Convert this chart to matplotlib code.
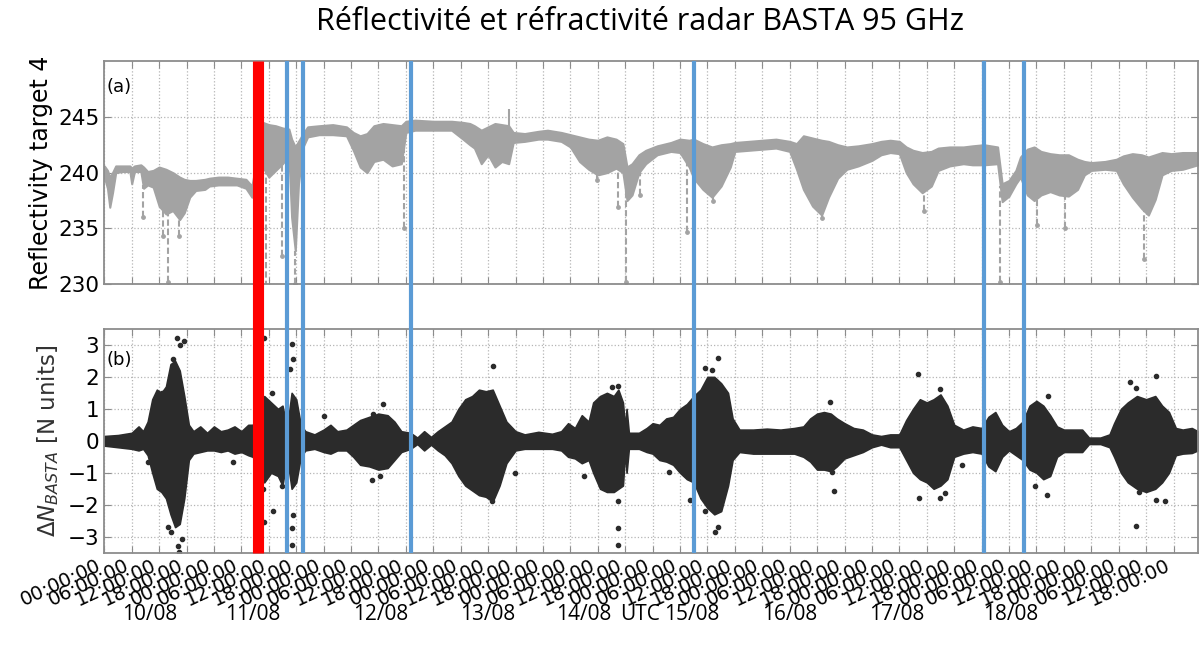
import numpy as np
import matplotlib
matplotlib.use('Agg')
import matplotlib.pyplot as plt
from matplotlib.lines import Line2D
from matplotlib import transforms

# Time axis: hours since 10/08 00:00 UTC

# (a) reflectivity of target 4: upper / lower edge of the point cloud
refl_t = [0.0, 0.7, 1.2, 1.8, 2.5, 4.0, 5.6, 6.0, 6.6, 8.0, 8.6, 9.5, 10.7, 12.0,
          13.5, 15.0, 16.5, 17.5, 18.7, 20.0, 22.0, 23.0, 25.0, 27.0, 29.0, 31.0,
          32.3, 33.5, 34.7, 36.0, 37.5, 39.0, 40.4, 41.0, 41.8, 42.5, 43.5, 44.5,
          47.0, 50.0, 53.0, 54.5, 56.0, 57.5, 59.0, 61.0, 63.0, 65.0, 66.0, 68.0,
          72.0, 76.0, 78.5, 80.0, 81.0, 82.5, 84.0, 85.5, 87.0, 88.5, 89.5, 92.0,
          95.0, 97.0, 100.0, 102.0, 104.0, 106.0, 108.0, 110.0, 112.0, 113.5,
          114.4, 115.5, 117.0, 118.5, 121.0, 124.0, 126.0, 128.0, 129.0, 131.0,
          133.0, 135.0, 137.0, 138.0, 141.0, 144.0, 147.0, 150.0, 151.5, 153.0,
          155.0, 157.0, 158.5, 160.5, 162.5, 165.0, 168.0, 170.0, 172.0, 174.0,
          175.5, 177.0, 179.0, 181.0, 182.5, 185.0, 188.0, 190.0, 192.5, 195.5,
          196.5, 198.0, 199.5, 200.5, 202.0, 203.5, 205.0, 207.0, 209.0, 211.0,
          213.0, 214.5, 216.0, 219.0, 221.5, 223.0, 225.0, 227.0, 228.5, 230.0,
          231.5, 233.5, 236.0, 239.3]
refl_hi = [240.6, 240.2, 239.6, 240.0, 240.6, 240.6, 240.6, 240.4, 240.6, 240.7,
           240.5, 240.1, 240.2, 240.5, 240.3, 240.0, 239.6, 239.4, 239.3, 239.3,
           239.4, 239.5, 239.6, 239.6, 239.5, 239.4, 238.8, 241.5, 244.5, 244.3,
           244.2, 244.0, 243.9, 243.0, 242.3, 242.8, 243.5, 244.1, 244.2, 244.3,
           244.1, 243.6, 243.3, 243.5, 244.2, 244.4, 244.3, 244.2, 244.6, 244.7,
           244.6, 244.6, 244.5, 244.4, 244.2, 243.8, 244.1, 244.4, 244.3, 244.2,
           243.6, 243.5, 243.7, 243.8, 243.6, 243.4, 243.2, 243.0, 242.9, 243.2,
           243.0, 242.6, 240.5, 240.8, 241.6, 242.0, 242.4, 242.7, 243.0, 242.9,
           243.0, 242.6, 242.3, 242.5, 242.6, 242.7, 242.8, 242.9, 243.0, 242.8,
           242.6, 243.3, 243.1, 242.9, 242.8, 242.5, 242.3, 242.4, 242.6, 242.8,
           242.9, 242.8, 242.3, 242.0, 241.8, 241.9, 242.2, 242.3, 242.3, 242.4,
           242.5, 242.3, 239.0, 239.3, 240.2, 241.4, 242.1, 242.3, 241.9, 241.7,
           241.6, 241.6, 241.2, 241.0, 240.9, 241.0, 241.2, 241.5, 241.7, 241.6,
           241.4, 241.6, 241.8, 241.7, 241.8, 241.8]
refl_lo = [239.6, 238.6, 236.9, 238.2, 240.0, 240.1, 240.1, 239.0, 240.1, 240.1,
           238.6, 238.9, 238.7, 237.0, 236.3, 236.6, 235.8, 236.4, 237.8, 238.4,
           238.5, 238.8, 238.9, 238.9, 238.9, 238.6, 237.8, 238.5, 240.5, 239.6,
           240.2, 240.8, 241.5, 236.0, 233.0, 239.0, 242.3, 243.2, 243.4, 243.4,
           243.3, 242.0, 240.5, 240.0, 241.0, 241.2, 240.6, 240.8, 243.6, 243.8,
           243.8, 243.8, 243.0, 242.5, 242.2, 240.8, 241.6, 240.5, 241.0, 240.8,
           242.7, 242.8, 243.0, 243.0, 242.8, 242.3, 241.0, 240.3, 239.8, 240.0,
           240.4, 240.0, 237.5, 238.0, 240.0, 240.8, 241.6, 241.9, 241.8, 240.5,
           239.5, 238.5, 237.8, 238.8, 240.5, 241.9, 242.0, 242.1, 242.2, 241.9,
           240.3, 238.5, 237.0, 236.2, 237.8, 239.5, 240.3, 240.6, 241.1, 241.6,
           241.8, 241.7, 240.0, 239.0, 238.2, 238.8, 240.2, 240.6, 240.8, 240.7,
           240.7, 240.8, 237.4, 237.9, 239.0, 239.6, 238.0, 237.5, 238.0, 238.3,
           238.0, 237.9, 238.5, 239.8, 240.2, 240.3, 240.2, 239.0, 237.8, 236.8,
           236.2, 237.6, 239.8, 240.2, 240.3, 240.7]

# isolated drops and jumps in (a)
refl_drop_t = [8.5, 12.9, 14.0, 16.4, 35.3, 38.8, 41.8, 65.5, 107.8, 112.5, 114.1,
               117.3, 127.5, 133.3, 157.1, 179.3, 196.1, 204.1, 210.3, 227.5]
refl_drop_v = [236.0, 234.3, 230.2, 234.3, 229.8, 232.5, 230.0, 235.0, 239.3, 236.9,
               230.2, 238.0, 234.7, 237.5, 235.9, 236.6, 230.2, 235.3, 235.0, 232.3]
refl_jump_t = [34.6, 88.5]
refl_jump_v = [246.2, 245.7]

# (b) refractivity change: upper / lower edge of the point cloud
dn_t = [0, 3, 6, 7.5, 8.5, 9.5, 10.5, 11.5, 12.5, 13.5, 14.5, 15.5, 16.5, 17.5,
        18.5, 19.5, 21, 22.5, 24, 25.5, 27, 28.5, 30, 31.5, 32.5, 33.5, 35, 36.5,
        38, 39, 40, 41, 42, 43, 44, 46, 48, 49.5, 51, 53, 54.5, 56, 58, 60, 62,
        63.5, 65, 67, 68.5, 70, 71.5, 73, 74.5, 76, 77.5, 79, 80.5, 82, 83.5, 85,
        86.5, 88, 90, 92, 95, 98, 100, 101.5, 103, 104.5, 106, 107, 108.5, 110,
        111.5, 112.5, 113.5, 114, 114.3, 114.8, 117, 118.7, 120, 121.5, 123, 124.5,
        126, 127.5, 129, 130.5, 132, 133.5, 135, 136.5, 137.5, 139, 142, 145, 148,
        151, 153, 154.5, 156, 157.5, 159, 160.3, 162, 164, 166, 168, 170, 172, 174,
        175.5, 177, 178.5, 180, 181.5, 183, 184.5, 186, 188, 190, 192, 193.5, 195,
        196.5, 198, 199.5, 201, 202.5, 204, 205.5, 207, 208.5, 210, 212, 214,
        215.5, 218, 220, 221, 222.5, 224, 226, 228, 230, 231.5, 233, 234.5, 236,
        238, 239.3]
dn_hi = [0.15, 0.18, 0.25, 0.45, 0.3, 0.6, 1.3, 1.6, 1.5, 1.7, 2.4, 2.5, 2.2, 1.4,
         0.5, 0.3, 0.45, 0.25, 0.45, 0.3, 0.35, 0.45, 0.3, 0.5, 0.5, 0.8, 1.4, 1.2,
         1.0, 1.1, 0.4, 1.5, 1.3, 0.5, 0.3, 0.2, 0.35, 0.5, 0.3, 0.35, 0.5, 0.65,
         0.75, 0.85, 0.8, 0.6, 0.3, 0.25, 0.1, 0.3, 0.12, 0.3, 0.45, 0.6, 1.0, 1.3,
         1.4, 1.6, 1.55, 1.6, 1.1, 0.6, 0.3, 0.2, 0.28, 0.22, 0.3, 0.55, 0.4, 0.8,
         0.6, 1.2, 1.4, 1.5, 1.4, 1.6, 1.2, 0.4, 1.0, 0.25, 0.25, 0.4, 0.55, 0.5,
         0.7, 0.75, 1.0, 1.15, 1.4, 1.6, 2.0, 2.0, 1.8, 1.5, 0.7, 0.35, 0.35, 0.38,
         0.35, 0.4, 0.45, 0.7, 0.85, 0.9, 0.85, 0.7, 0.55, 0.4, 0.35, 0.2, 0.15,
         0.2, 0.2, 0.65, 1.0, 1.3, 1.2, 1.3, 1.45, 1.1, 0.5, 0.35, 0.45, 0.4, 0.75,
         0.9, 0.5, 0.3, 0.4, 0.6, 1.1, 1.25, 1.1, 0.8, 0.45, 0.35, 0.35, 0.35, 0.1,
         0.1, 0.2, 0.55, 1.0, 1.2, 1.4, 1.3, 1.4, 1.1, 0.9, 0.4, 0.35, 0.4, 0.3]
dn_lo = [-0.15, -0.2, -0.25, -0.3, -0.25, -0.45, -1.0, -1.5, -1.6, -1.8, -2.3, -2.7,
         -2.6, -1.8, -0.6, -0.4, -0.35, -0.3, -0.3, -0.35, -0.3, -0.4, -0.35, -0.45,
         -0.5, -0.8, -1.3, -1.0, -1.1, -1.4, -0.5, -1.5, -1.3, -0.5, -0.3, -0.25,
         -0.35, -0.4, -0.3, -0.3, -0.5, -0.75, -0.8, -0.9, -0.85, -0.6, -0.35, -0.25,
         -0.1, -0.3, -0.12, -0.3, -0.45, -0.7, -1.1, -1.4, -1.55, -1.7, -1.75, -1.9,
         -1.4, -0.7, -0.3, -0.25, -0.25, -0.25, -0.3, -0.5, -0.55, -0.7, -0.6, -1.0,
         -1.5, -1.6, -1.6, -1.5, -1.4, -0.3, -1.0, -0.25, -0.25, -0.35, -0.4, -0.6,
         -0.65, -0.75, -1.0, -1.2, -1.3, -1.8, -2.1, -2.3, -2.2, -1.4, -0.6, -0.35,
         -0.4, -0.4, -0.4, -0.4, -0.5, -0.65, -0.9, -0.9, -0.95, -0.8, -0.55, -0.45,
         -0.35, -0.2, -0.12, -0.2, -0.2, -0.6, -1.0, -1.2, -1.3, -1.5, -1.4, -1.2,
         -0.5, -0.4, -0.35, -0.4, -0.8, -0.95, -0.5, -0.3, -0.45, -0.6, -0.9, -1.0,
         -1.2, -1.1, -0.5, -0.35, -0.35, -0.35, -0.1, -0.1, -0.2, -0.5, -1.0, -1.3,
         -1.5, -1.6, -1.5, -1.3, -1.0, -0.45, -0.4, -0.38, -0.3]

# isolated points of (b) outside the main cloud
dn_out_t = [16.0, 17.4, 16.6, 15.1, 16.4, 16.2, 16.9, 14.0, 14.7, 12.6, 35.0, 34.8,
            35.0, 36.9, 36.6, 41.0, 41.2, 40.7, 41.0, 41.0, 41.2, 38.8, 48.0, 28.2,
            9.6, 60.9, 58.9, 58.5, 60.4, 85.0, 112.4, 111.1, 112.4, 112.4, 112.5,
            84.8, 89.9, 105.0, 128.1, 134.4, 131.5, 133.0, 133.7, 134.4, 131.5, 123.5,
            158.9, 159.6, 159.3, 178.1, 183.0, 178.2, 183.0, 183.9, 187.7, 206.5,
            206.3, 203.6, 224.4, 230.1, 225.9, 225.9, 226.4, 232.1, 230.1]
dn_out_v = [3.23, 3.13, 3.0, 2.57, -3.49, -3.28, -3.06, -2.69, -2.85, 1.51, 3.23, -1.52,
            -2.53, -2.19, 1.51, 3.02, 2.57, 2.26, -2.74, -3.26, -2.32, -1.41, 0.79, -0.67,
            -0.67, 1.16, 0.85, -1.23, -1.1, 2.34, 1.72, 1.67, -2.74, -3.26, -1.89,
            -1.89, -1.01, -1.1, -1.84, 2.6, 2.29, 2.22, -2.85, -2.71, -2.21, -0.99,
            1.21, -1.57, -0.99, 2.1, 1.62, -1.79, -1.79, -1.63, -0.76, 1.4,
            -1.68, -1.41, 1.85, 2.04, 1.64, -2.66, -1.61, -1.87, -1.84]

# marked events (hours)
event_red = 33.6
event_blue = [39.9, 43.4, 67.1, 129.1, 192.6, 201.3]

tick_hours = list(range(0, 235, 6))
day_labels = ['10/08', '11/08', '12/08', '13/08', '14/08', 'UTC', '15/08',
              '16/08', '17/08', '18/08']
day_label_x = [10.0, 32.5, 60.6, 83.8, 105.0, 117.3, 128.5, 150.1, 173.5, 198.3]

GREY_PTS = '#a3a3a3'
DARK_PTS = '#2b2b2b'
FRAME = '#8c8c8c'

plt.rcParams['font.family'] = 'DejaVu Sans'
fig = plt.figure(figsize=(12, 6.57), dpi=100)
ax1 = fig.add_axes([0.0869, 0.5673, 0.9112, 0.3399])
ax2 = fig.add_axes([0.0869, 0.1588, 0.9112, 0.3405], sharex=ax1)

# panel (a)
ax1.fill_between(refl_t, refl_lo, refl_hi, color=GREY_PTS, lw=1.5,
                 edgecolor=GREY_PTS, zorder=2)
drop_top = np.interp(refl_drop_t, refl_t, refl_lo)
ax1.vlines(refl_drop_t, refl_drop_v, drop_top, colors=GREY_PTS, lw=1.5,
           linestyles=(0, (3, 1.5)), zorder=2)
ax1.scatter(refl_drop_t, refl_drop_v, s=6, color=GREY_PTS, zorder=2)
jump_base = np.interp(refl_jump_t, refl_t, refl_hi)
ax1.vlines(refl_jump_t, jump_base, refl_jump_v, colors=GREY_PTS, lw=1.5, zorder=2)
ax1.set_ylim(230, 250)
ax1.set_yticks([230, 235, 240, 245])
ax1.set_ylabel('Reflectivity target 4', fontsize=17, labelpad=4)
ax1.text(0.002, 0.884, '(a)', transform=ax1.transAxes, fontsize=13,
         ha='left', va='center')

# panel (b)
ax2.fill_between(dn_t, dn_lo, dn_hi, color=DARK_PTS, lw=1.2,
                 edgecolor=DARK_PTS, zorder=2)
ax2.scatter(dn_out_t, dn_out_v, s=9, color=DARK_PTS, zorder=2)
ax2.set_ylim(-3.5, 3.5)
ax2.set_yticks(range(-3, 4))
ax2.set_ylabel(r'$\Delta N_{BASTA}$ [N units]', fontsize=16.5, labelpad=5,
               color='#333333')
ax2.text(0.002, 0.861, '(b)', transform=ax2.transAxes, fontsize=13,
         ha='left', va='center')

for ax in (ax1, ax2):
    ax.set_xlim(0, 239.3)
    ax.grid(True, linestyle=':', color='#b5b5b5', lw=0.9)
    ax.set_axisbelow(True)
    for sp in ax.spines.values():
        sp.set_color(FRAME)
        sp.set_linewidth(1.3)
    ax.tick_params(direction='in', top=True, right=True, length=5,
                   color=FRAME, labelsize=15.5)

ax2.set_xticks(tick_hours)
ax2.set_xticklabels(['%02d:00:00' % (h % 24) for h in tick_hours],
                    rotation=25, ha='right', fontsize=14)
ax2.tick_params(axis='x', pad=2)
plt.setp(ax1.get_xticklabels(), visible=False)

# event markers cross both panels
trans = transforms.blended_transform_factory(ax2.transData, fig.transFigure)
y_bot = ax2.get_position().y0
y_top = ax1.get_position().y1
fig.add_artist(Line2D([event_red, event_red], [y_bot, y_top], transform=trans,
                      color='#ff0000', lw=8, solid_capstyle='butt', zorder=5))
for h in event_blue:
    fig.add_artist(Line2D([h, h], [y_bot, y_top], transform=trans,
                          color='#5b9bd5', lw=3, solid_capstyle='butt', zorder=5))

for lab, x in zip(day_labels, day_label_x):
    fig.text(x, 0.065, lab, transform=trans, fontsize=15, family='Open Sans',
             ha='center', va='center')

fig.text(0.533, 0.966, 'Réflectivité et réfractivité radar BASTA 95 GHz',
         fontsize=22, family='Open Sans', ha='center', va='center')

fig.savefig('out.png', dpi=100)
